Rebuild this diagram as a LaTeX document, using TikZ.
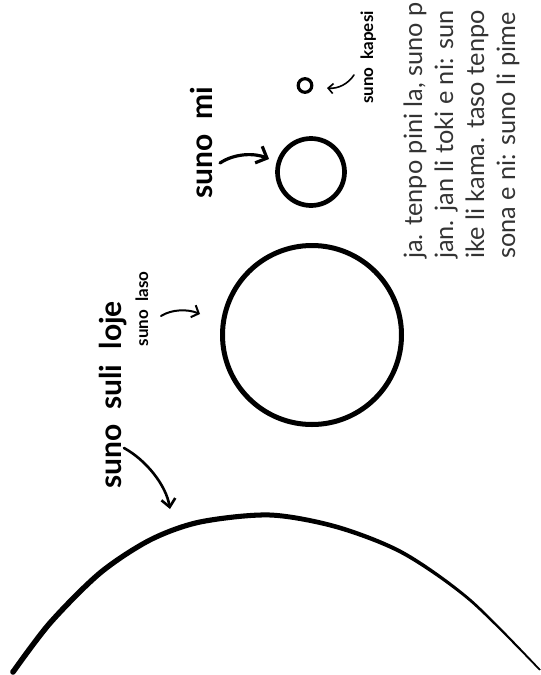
\documentclass[tikz,border=0pt]{standalone}
\usepackage{fontspec}
\setmainfont{Lato}
\usetikzlibrary{arrows.meta}
\begin{document}
\begin{tikzpicture}[x=1pt,y=-1pt,
  sunring/.style={circle, draw, inner sep=0pt},
  bigtag/.style={rotate=90, anchor=base, inner sep=1pt, font=\fontsize{30}{30}\selectfont\bfseries,
    execute at begin node={\spaceskip=15pt\relax}},
  smalltag/.style={rotate=90, anchor=base, inner sep=1pt, font=\fontsize{17}{17}\selectfont\bfseries,
    execute at begin node={\spaceskip=8pt\relax}},
  handarrow/.style={line cap=round, line join=round}]
\useasboundingbox (0,0) rectangle (541,675);
\clip (0,0) rectangle (541,675);

% story text, running up to the top edge (base is the last line)
\node[rotate=90, anchor=base west, align=left, inner sep=0pt, text=black!80,
  font=\fontsize{25.3}{31}\selectfont] (story) at (515,259)
  {ja. tenpo pini la, suno p\\jan. jan li toki e ni: sun\\ike li kama. taso tenpo\\sona e ni: suno li pime};

% the suns
\node[sunring, minimum size=179pt, line width=5pt] (laso) at (312,335) {};
\node[sunring, minimum size=67pt, line width=4.7pt] (mi) at (311,172) {};
\node[sunring, minimum size=13.6pt, line width=3.2pt] (kapesi) at (305,85.5) {};

% the red giant, thick on the left, thin on the right
\fill plot[smooth] coordinates {(10.5,670.8) (47.8,621.3) (98.3,570.9) (148.9,537.7) (199.3,519.5)
    (270,512.5) (337.6,524.8) (403.9,551.3) (471,599) (540.8,669.6)}
  -- plot[smooth] coordinates {(539.2,670.4) (469,601) (402.1,554.7) (336.4,529.2) (270,517.5)
    (200.7,524.5) (151.1,542.3) (101.7,575.1) (52.2,624.7) (15.5,673.2)} -- cycle;
\fill (13,672) circle (2.8pt);

% labels
\node[bigtag] (tag-suli) at (121,395) {suno suli loje};
\node[bigtag] (tag-mi) at (212,142.5) {suno mi};
\node[smalltag] (tag-laso) at (148,309) {suno laso};
\node[smalltag] (tag-kapesi) at (373,57.5) {suno kapesi};

% arrows
\coordinate (suli-tail) at (124,448);
\coordinate (suli-tip) at (170,509);
\coordinate (mi-tail) at (220,163);
\coordinate (mi-tip) at (269,159);
\coordinate (laso-tail) at (161,316);
\coordinate (laso-tip) at (200,314);
\coordinate (kapesi-tail) at (354,75);
\coordinate (kapesi-tip) at (327,88);
\draw[handarrow, line width=2.6pt, -{Straight Barb[length=8pt,width=14pt]}]
  (suli-tail) .. controls (146,460) and (166,485) .. (suli-tip);
\draw[handarrow, line width=3.2pt, -{Straight Barb[length=9pt,width=18pt]}]
  (mi-tail) .. controls (235,153) and (255,153) .. (mi-tip);
\draw[handarrow, line width=2pt, -{Straight Barb[length=6pt,width=13pt]}]
  (laso-tail) .. controls (172,309) and (188,309) .. (laso-tip);
\draw[handarrow, line width=1.6pt, -{Straight Barb[length=5pt,width=10pt]}]
  (kapesi-tail) .. controls (348,84) and (338,89) .. (kapesi-tip);
\end{tikzpicture}
\end{document}
